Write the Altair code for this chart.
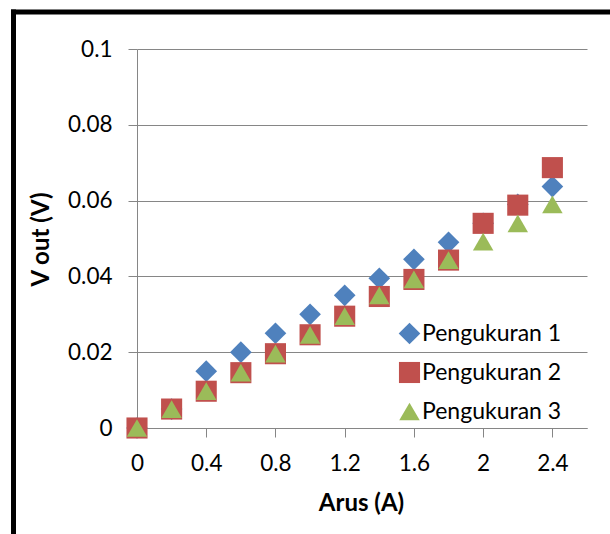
import altair as alt
import pandas as pd

# ---- data ----
arus = [0, 0.2, 0.4, 0.6, 0.8, 1.0, 1.2, 1.4, 1.6, 1.8, 2.0, 2.2, 2.4]
p1 = [0, 0.005, 0.015, 0.02, 0.025, 0.03, 0.035, 0.0395, 0.0445, 0.049, 0.054, 0.059, 0.0637]
p2 = [0, 0.005, 0.0097, 0.0146, 0.0196, 0.0246, 0.0295, 0.0347, 0.0392, 0.0443, 0.054, 0.0588, 0.0687]
p3 = [0, 0.005, 0.0097, 0.0146, 0.0196, 0.0246, 0.0295, 0.035, 0.0392, 0.0443, 0.0492, 0.054, 0.059]
series = ["Pengukuran 1", "Pengukuran 2", "Pengukuran 3"]
colors = ["#4F81BD", "#C0504D", "#9BBB59"]
shapes = ["diamond", "square", "triangle-up"]
sizes = [470, 420, 500]
x_ticks = [0, 0.4, 0.8, 1.2, 1.6, 2, 2.4]
y_ticks = [0, 0.02, 0.04, 0.06, 0.08, 0.1]

rows = []
for name, vals in zip(series, [p1, p2, p3]):
    for a, v in zip(arus, vals):
        rows.append({"Arus": a, "Vout": v, "Seri": name})
df = pd.DataFrame(rows)

FONT = "Lato"
GRAY = "#868686"
W, H = 450, 379
PAD_L, PAD_T = 137, 49

legend_cfg = alt.Legend(
    title=None, orient="none", legendX=261, legendY=273,
    labelFont=FONT, labelFontSize=23, labelColor="#000000",
    symbolSize=313, symbolStrokeWidth=0, rowPadding=15, labelOffset=1,
    padding=0,
)

points = alt.Chart(df).mark_point(filled=True, opacity=1, strokeWidth=0).encode(
    x=alt.X(
        "Arus:Q",
        scale=alt.Scale(domain=[0, 2.6], nice=False, zero=True),
        axis=alt.Axis(
            values=x_ticks, format="~g", title="Arus (A)", grid=False,
            tickSize=9, tickColor=GRAY, domainColor=GRAY, domainWidth=1,
            labelFont=FONT, labelFontSize=22.5, labelColor="#000000",
            labelBaseline="middle", labelPadding=26.5, labelFlush=False,
            titleFont=FONT, titleFontSize=24, titleFontWeight="bold", titleColor="#000000",
            titleX=224, titleY=75, titleAlign="center", titleBaseline="middle",
        ),
    ),
    y=alt.Y(
        "Vout:Q",
        scale=alt.Scale(domain=[0, 0.1], nice=False),
        axis=alt.Axis(
            values=y_ticks, format="~g", title="V out (V)", grid=True,
            gridColor=GRAY, gridWidth=1, gridOpacity=1,
            tickSize=9, tickColor=GRAY, domainColor=GRAY, domainWidth=1,
            labelFont=FONT, labelFontSize=22.5, labelColor="#000000",
            labelPadding=16, labelFlush=False,
            titleFont=FONT, titleFontSize=24, titleFontWeight="bold", titleColor="#000000",
            titleX=-96, titleY=190, titleAngle=270, titleAlign="center", titleBaseline="middle",
        ),
    ),
    color=alt.Color("Seri:N", scale=alt.Scale(domain=series, range=colors), legend=legend_cfg),
    shape=alt.Shape("Seri:N", scale=alt.Scale(domain=series, range=shapes), legend=legend_cfg),
    size=alt.Size("Seri:N", scale=alt.Scale(domain=series, range=sizes), legend=None),
)

frame_df = pd.DataFrame({"k": [0]})
left_border = alt.Chart(frame_df).mark_rule(color="#000000", strokeWidth=5).encode(
    x=alt.value(13.5 - PAD_L), y=alt.value(9.5 - PAD_T), y2=alt.value(534 - PAD_T + 10)
)
top_border = alt.Chart(frame_df).mark_rule(color="#000000", strokeWidth=5).encode(
    y=alt.value(12 - PAD_T), x=alt.value(11 - PAD_L), x2=alt.value(610 - PAD_L + 10)
)

chart = alt.layer(points, left_border, top_border).properties(
    width=W, height=H,
    autosize=alt.AutoSizeParams(type="none"),
    padding={"left": PAD_L, "top": PAD_T, "right": 610 - PAD_L - W, "bottom": 534 - PAD_T - H},
    background="#FFFFFF",
).configure_view(stroke=None)

chart.save("out.html", embed_options={"renderer": "svg", "actions": False})
